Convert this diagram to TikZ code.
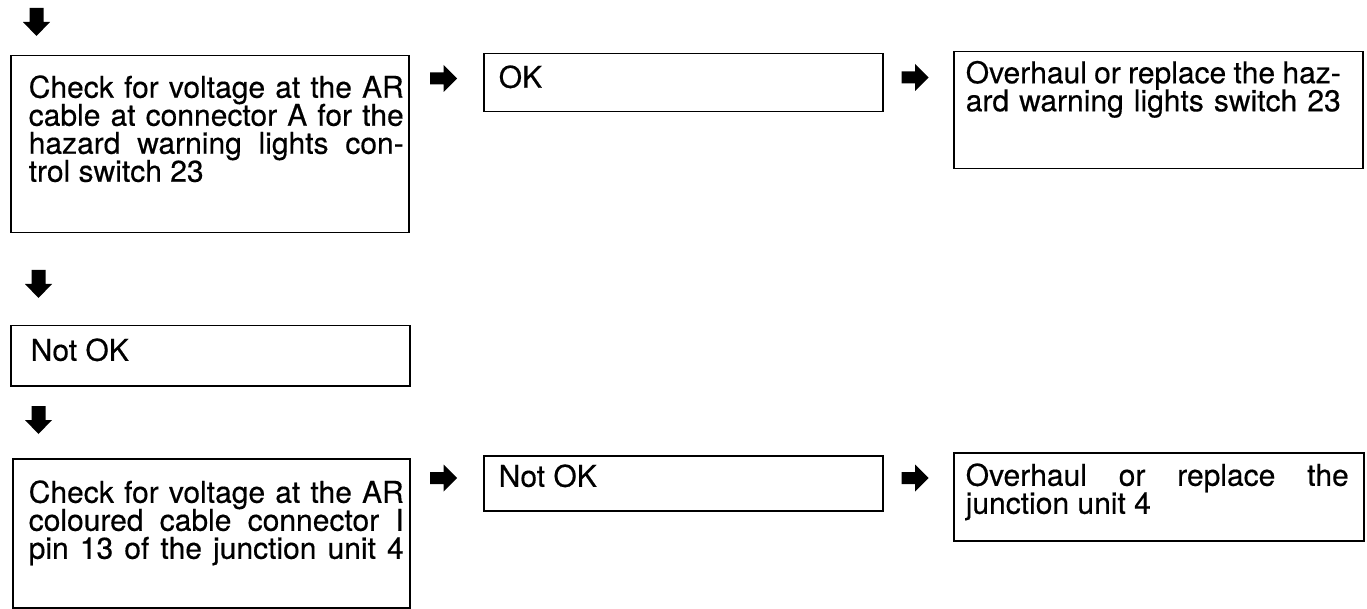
\documentclass[tikz,border=0pt]{standalone}
\usepackage{fontspec}
\setmainfont{TeX Gyre Heros}
\newlength\tw
\setlength\tw{375pt}
\newlength\padl
\newcommand\jline[1]{\hbox{\hspace*{\padl}\rule{0pt}{20pt}\smash{\makebox[\tw][s]{#1}}}}
\newcommand\lline[1]{\hbox{\hspace*{\padl}\rule{0pt}{20pt}\smash{\makebox[\tw][l]{#1}}}}
\newcommand\boxtxt[5]{%
  \vbox to #2{\setlength\padl{#4}\baselineskip=28pt\lineskiplimit=-1000pt
  \hbox to #1{}\nointerlineskip\kern\dimexpr#3-20pt\relax #5\vss}}
\tikzset{
  flowbox/.style={draw, line width=1.5pt, inner sep=0pt, anchor=north west,
    font=\fontsize{30pt}{28pt}\selectfont\addfontfeature{FakeBold=0.4}},
  darrow/.pic={\fill (-7,-14) -- (7,-14) -- (7,0) -- (13.5,0) -- (0,14) -- (-13.5,0) -- (-7,0) -- cycle;},
  rarrow/.pic={\fill (-13.5,-6) -- (0,-6) -- (0,-13.5) -- (13.5,0) -- (0,13.5) -- (0,6) -- (-13.5,6) -- cycle;}
}
\begin{document}
\begin{tikzpicture}[x=1pt,y=-1pt]
\useasboundingbox (0,0) rectangle (1367,609);
% down arrows
\pic (d1) at (36.5,22) {darrow};
\pic (d2) at (38.5,284) {darrow};
\pic (d3) at (38.5,420) {darrow};
% boxes
\node[flowbox] (b1) at (10,55) {\boxtxt{398pt}{177pt}{42pt}{18pt}{%
  \jline{Check for voltage at the AR}
  \jline{cable at connector A for the}
  \jline{hazard warning lights con-}
  \lline{trol switch 23}}};
\node[flowbox] (ok1) at (483,53) {\boxtxt{399pt}{58pt}{34pt}{15pt}{\lline{OK}}};
\node[flowbox] (b3) at (953,51) {\boxtxt{409pt}{117pt}{31.5pt}{12pt}{%
  \jline{Overhaul or replace the haz-}
  \jline{ard warning lights switch 23}}};
\node[flowbox] (nok1) at (10,325) {\boxtxt{399pt}{60pt}{35pt}{20pt}{\lline{Not OK}}};
\node[flowbox] (b4) at (12,458) {\boxtxt{397pt}{149pt}{44pt}{16pt}{%
  \jline{Check for voltage at the AR}
  \jline{coloured cable connector I}
  \jline{pin 13 of the junction unit 4}}};
\node[flowbox] (nok2) at (483,455) {\boxtxt{399pt}{55pt}{31pt}{15pt}{\lline{Not OK}}};
\node[flowbox] (b6) at (953,452) {\boxtxt{410pt}{88pt}{33pt}{12pt}{%
  \setlength\tw{383pt}%
  \jline{Overhaul or replace the}
  \lline{junction unit 4}}};
% right arrows
\pic (r1) at (443.5,78.5) {rarrow};
\pic (r2) at (915,77.5) {rarrow};
\pic (r3) at (443.5,478) {rarrow};
\pic (r4) at (915,478) {rarrow};
\end{tikzpicture}
\end{document}
